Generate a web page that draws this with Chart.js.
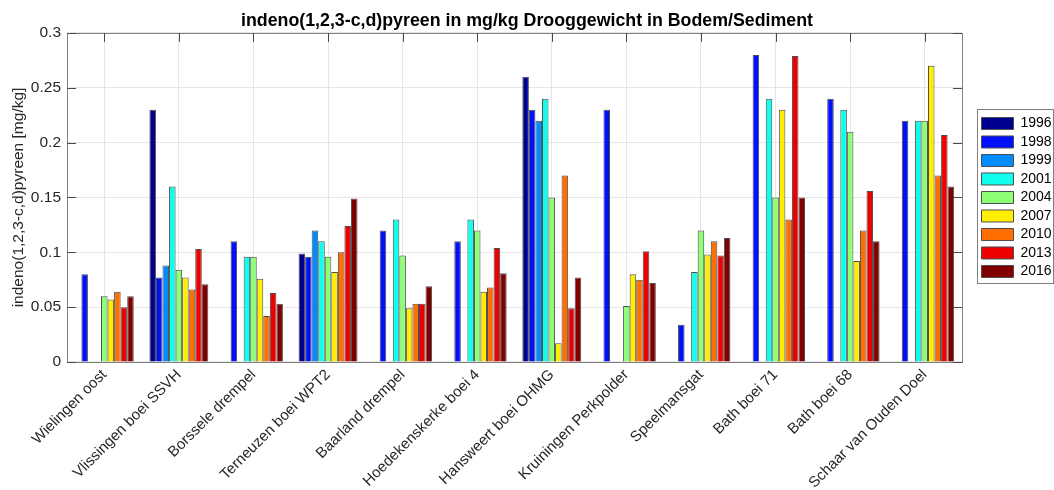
<!DOCTYPE html>
<html>
<head>
<meta charset="utf-8">
<title>indeno(1,2,3-c,d)pyreen</title>
<script src="https://cdn.jsdelivr.net/npm/chart.js@4.4.0/dist/chart.umd.min.js"></script>
<style>
    html, body { margin: 0; padding: 0; background: #fff; }
    #wrap { width: 1054px; height: 490px; }
</style>
</head>
<body>
<div id="wrap"><canvas id="myBarChart"></canvas></div>
<script>
const stations = ['Wielingen oost', 'Vlissingen boei SSVH', 'Borssele drempel', 'Terneuzen boei WPT2',
    'Baarland drempel', 'Hoedekenskerke boei 4', 'Hansweert boei OHMG', 'Kruiningen Perkpolder',
    'Speelmansgat', 'Bath boei 71', 'Bath boei 68', 'Schaar van Ouden Doel'];
const years = ['1996', '1998', '1999', '2001', '2004', '2007', '2010', '2013', '2016'];

// values in mg/kg, null = no measurement
const v1996 = [null, 0.23, null, 0.099, null, null, 0.26, null, null, null, null, null];
const v1998 = [0.08, 0.077, 0.11, 0.096, 0.12, 0.11, 0.23, 0.23, 0.034, 0.28, 0.24, 0.22];
const v1999 = [null, 0.088, null, 0.12, null, null, 0.22, null, null, null, null, null];
const v2001 = [null, 0.16, 0.096, 0.11, 0.13, 0.13, 0.24, null, 0.082, 0.24, 0.23, 0.22];
const v2004 = [0.06, 0.084, 0.096, 0.096, 0.097, 0.12, 0.15, 0.051, 0.12, 0.15, 0.21, 0.22];
const v2007 = [0.057, 0.077, 0.076, 0.082, 0.049, 0.064, 0.017, 0.08, 0.098, 0.23, 0.092, 0.27];
const v2010 = [0.064, 0.066, 0.042, 0.1, 0.053, 0.068, 0.17, 0.075, 0.11, 0.13, 0.12, 0.17];
const v2013 = [0.05, 0.103, 0.063, 0.124, 0.053, 0.104, 0.049, 0.101, 0.097, 0.279, 0.156, 0.207];
const v2016 = [0.06, 0.071, 0.053, 0.149, 0.069, 0.081, 0.077, 0.072, 0.113, 0.15, 0.11, 0.16];

const yTicks = [0, 0.05, 0.1, 0.15, 0.2, 0.25, 0.3];

const series = [v1996, v1998, v1999, v2001, v2004, v2007, v2010, v2013, v2016];
const colors = ['#00008f', '#0010ff', '#008cff', '#10ffec', '#8cff74', '#ffee00', '#ff6e00', '#ee0000', '#800000'];

Chart.defaults.font.family = "'Liberation Sans', Arial, sans-serif";
Chart.defaults.color = '#262626';

// box around the plot, inward tick marks and a frame around the legend
const frame = {
    id: 'frame',
    afterDraw(chart) {
        const {ctx, chartArea: a, scales} = chart;
        ctx.save();
        ctx.lineWidth = 1;
        ctx.strokeStyle = '#808080';
        ctx.strokeRect(Math.round(a.left) + 0.5, Math.round(a.top) + 0.5,
            Math.round(a.right - a.left), Math.round(a.bottom - a.top));

        ctx.strokeStyle = '#4a4a4a';
        ctx.beginPath();
        stations.forEach((s, i) => {
            const x = Math.round(scales.x.getPixelForTick(i)) + 0.5;
            ctx.moveTo(x, a.top);
            ctx.lineTo(x, a.top + 9);
        });
        yTicks.forEach(v => {
            const y = Math.round(scales.y.getPixelForValue(v)) + 0.5;
            ctx.moveTo(a.left, y);
            ctx.lineTo(a.left + 9, y);
            ctx.moveTo(a.right, y);
            ctx.lineTo(a.right - 9, y);
        });
        ctx.stroke();

        const lg = chart.legend;
        const hb = lg.legendHitBoxes;
        if (hb && hb.length) {
            const last = hb[hb.length - 1];
            const top = hb[0].top - 7;
            const bottom = last.top + last.height + 5;
            ctx.strokeStyle = '#808080';
            ctx.strokeRect(Math.round(lg.left) + 0.5, Math.round(top) + 0.5, 1053 - Math.round(lg.left), Math.round(bottom - top));
        }
        ctx.restore();
    }
};

const myBarChart = new Chart(document.getElementById('myBarChart').getContext('2d'), {
    type: 'bar',
    data: {
        labels: stations,
        datasets: years.map((y, i) => ({
            label: y,
            data: series[i],
            backgroundColor: colors[i],
            borderColor: '#4d4d4d',
            borderWidth: 1,
            categoryPercentage: 0.79,
            barPercentage: 1.0,
        }))
    },
    options: {
        responsive: true,
        maintainAspectRatio: false,
        animation: false,
        layout: { padding: 0 },
        scales: {
            x: {
                grid: { color: '#e6e6e6', offset: false, drawTicks: false },
                border: { display: false },
                ticks: {
                    autoSkip: false,
                    maxRotation: 45,
                    minRotation: 45,
                    padding: 4,
                    font: { size: 15 },
                    color: '#262626'
                },
                afterFit(scale) { scale.height = 128; }
            },
            y: {
                min: 0,
                max: 0.3,
                grid: { color: '#e6e6e6', drawTicks: false },
                border: { display: false },
                ticks: {
                    stepSize: 0.05,
                    padding: 6,
                    font: { size: 15.5 },
                    color: '#262626',
                    callback: v => String(+v.toFixed(2))
                },
                title: {
                    display: true,
                    text: 'indeno(1,2,3-c,d)pyreen [mg/kg]',
                    font: { size: 15.5 },
                    color: '#262626',
                    padding: { top: 9, bottom: 0 }
                },
                afterFit(scale) { scale.width = 67; }
            },
            // empty right axis, only used as a gap between plot and legend
            gap: {
                position: 'right',
                display: true,
                grid: { display: false },
                border: { display: false },
                ticks: { display: false },
                afterFit(scale) { scale.width = 15; }
            }
        },
        plugins: {
            title: {
                display: true,
                text: 'indeno(1,2,3-c,d)pyreen in mg/kg Drooggewicht in Bodem/Sediment',
                font: { size: 17.8, weight: 'bold' },
                color: '#000',
                padding: { top: 10, bottom: 1.6 }
            },
            legend: {
                position: 'right',
                fullSize: false,
                maxWidth: 77,
                labels: {
                    boxWidth: 32,
                    boxHeight: 12,
                    padding: 4.5,
                    font: { size: 14 },
                    color: '#000'
                }
            },
            tooltip: { enabled: false }
        }
    },
    plugins: [frame]
});
</script>
</body>
</html>
